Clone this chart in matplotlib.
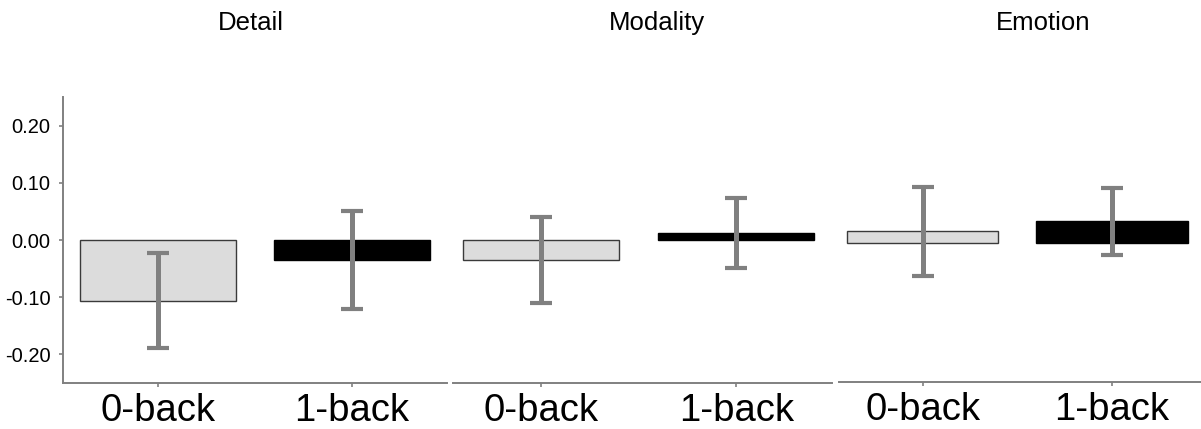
import matplotlib
matplotlib.use("Agg")
import matplotlib.pyplot as plt

# Dados ###############################################################################

condicoes = ["0-back", "1-back"]
paineis = ["Detail", "Modality", "Emotion"]

media_detail = [-0.106, -0.035]
erro_detail = [0.083, 0.085]

media_modality = [-0.035, 0.012]
erro_modality = [0.075, 0.061]

media_emotion = [0.021, 0.039]
erro_emotion = [0.080, 0.060]

y_ticks = [-0.20, -0.10, 0.00, 0.10, 0.20]
y_labels = ["-0.20", "-0.10", "0.00", "0.10", "0.20"]

# Estilo ###############################################################################

plt.rcParams['font.family'] = ['Liberation Sans', 'DejaVu Sans']
cor_eixo = "#808080"
cores_barras = ["#dcdcdc", "#000000"]
bordas_barras = ["#3a3a3a", "#000000"]

W, H = 1201, 429
fig = plt.figure(figsize=(W / 100, H / 100), dpi=100)


def caixa(x0, x1, y0, y1):
    # converte pixels (origem em cima) para coordenadas da figura
    return [x0 / W, 1 - y1 / H, (x1 - x0) / W, (y1 - y0) / H]


def desenha_painel(ax, medias, erros, xlim, ylim, mostra_y):
    x = list(range(len(condicoes)))
    ax.bar(x, medias, width=0.8, color=cores_barras, edgecolor=bordas_barras,
           linewidth=1.0, zorder=2)
    ax.errorbar(x, medias, yerr=erros, fmt="none", ecolor=cor_eixo,
                elinewidth=3.6, capsize=8, capthick=3.0, zorder=3)
    ax.set_xlim(xlim)
    ax.set_ylim(ylim)
    ax.set_xticks(x)
    ax.set_xticklabels(condicoes, fontsize=27.5)
    ax.tick_params(axis="x", length=3, width=1.2, color=cor_eixo, pad=4)
    for lado in ["top", "right"]:
        ax.spines[lado].set_visible(False)
    ax.spines["bottom"].set_color(cor_eixo)
    ax.spines["bottom"].set_linewidth(1.4)
    if mostra_y:
        ax.spines["left"].set_color(cor_eixo)
        ax.spines["left"].set_linewidth(1.4)
        ax.set_yticks(y_ticks)
        ax.set_yticklabels(y_labels, fontsize=14.5)
        ax.tick_params(axis="y", length=3, width=1.2, color=cor_eixo, pad=6)
    else:
        ax.spines["left"].set_visible(False)
        ax.set_yticks([])
    ax.patch.set_alpha(0)


# Paineis ###############################################################################

ax1 = fig.add_axes(caixa(63, 447, 97, 383))
desenha_painel(ax1, media_detail, erro_detail, (-0.49, 1.49), (-0.25, 0.25), True)

ax2 = fig.add_axes(caixa(453, 832, 97, 383))
desenha_painel(ax2, media_modality, erro_modality, (-0.45, 1.49), (-0.25, 0.25), False)

ax3 = fig.add_axes(caixa(839, 1201, 97, 382))
desenha_painel(ax3, media_emotion, erro_emotion, (-0.442, 1.47), (-0.249, 0.262), False)

# Titulos ###############################################################################

for nome, xc in zip(paineis, [251, 657, 1043]):
    fig.text(xc / W, 1 - 30 / H, nome, ha="center", va="baseline", fontsize=18.5)

fig.savefig("out.png", dpi=100)
